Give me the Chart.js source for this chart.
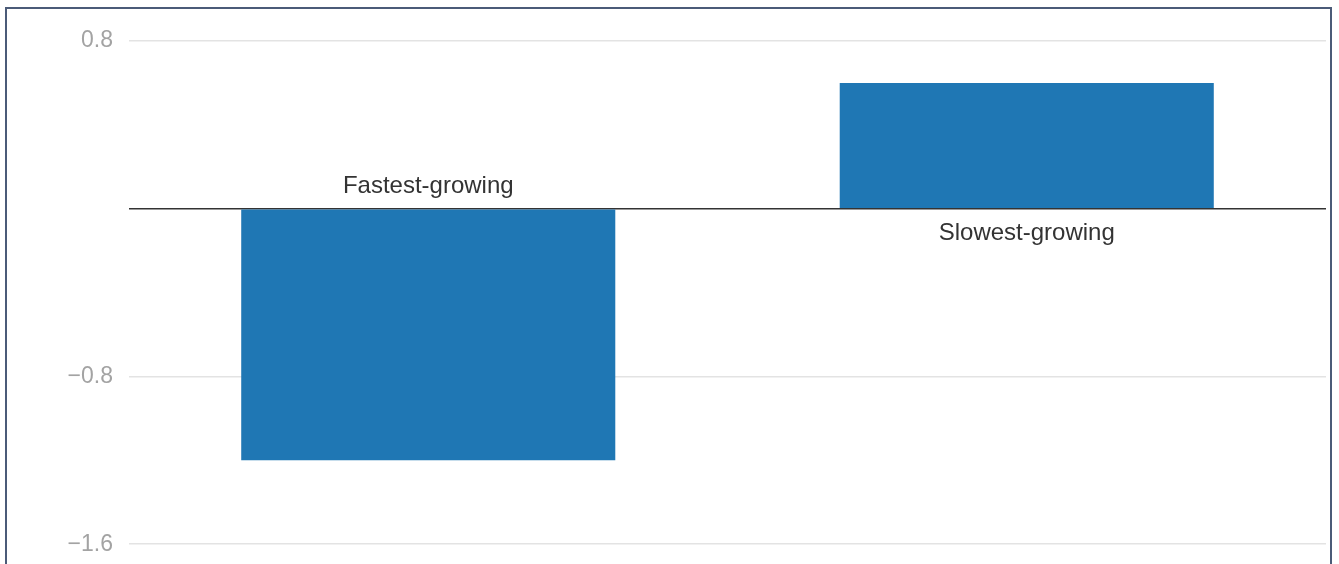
<!DOCTYPE html>
<html>
<head>
<meta charset="utf-8">
<script src="https://cdn.jsdelivr.net/npm/chart.js@4"></script>
<style>
  html, body { margin: 0; padding: 0; background: #fff; overflow: hidden; }
  #wrap { position: absolute; left: 0; top: 0; width: 1339px; height: 574px; }
  #frame { position: absolute; left: 5px; top: 7px; width: 1327px; height: 700px;
           box-sizing: border-box; border: 2px solid #4b5b78; pointer-events: none; }
</style>
</head>
<body>
<div id="wrap"><canvas id="myChart"></canvas></div>
<div id="frame"></div>
<script>
// Veriler
const kategoriler = ['Fastest-growing', 'Slowest-growing'];
const degerler = [-1.2, 0.6];
const yEksenDegerleri = [0.8, 0, -0.8, -1.6];

// Kategori etiketlerini sıfır çizgisinin yanına yaz
const kategoriEtiketi = {
  id: 'kategoriEtiketi',
  afterDatasetsDraw(chart) {
    const ctx = chart.ctx;
    const y = chart.scales.y;
    const sifir = y.getPixelForValue(0);
    const bars = chart.getDatasetMeta(0).data;
    ctx.save();
    ctx.font = '24px "Liberation Sans", Arial, sans-serif';
    ctx.fillStyle = '#333';
    ctx.textAlign = 'center';
    ctx.textBaseline = 'alphabetic';
    bars.forEach((bar, i) => {
      const yy = degerler[i] < 0 ? sifir - 16 : sifir + 31;
      ctx.fillText(kategoriler[i], bar.x, yy);
    });
    ctx.restore();
  }
};

function grafikOlustur() {
  const ctx = document.getElementById('myChart').getContext('2d');
  return new Chart(ctx, {
    type: 'bar',
    data: {
      labels: kategoriler,
      datasets: [{
        data: degerler,
        backgroundColor: '#1f77b4',
        borderWidth: 0,
        categoryPercentage: 1,
        barPercentage: 0.625
      }]
    },
    options: {
      responsive: true,
      maintainAspectRatio: false,
      animation: false,
      layout: { padding: { top: 41, bottom: 10, right: 13, left: 0 } },
      plugins: { legend: { display: false }, tooltip: { enabled: false } },
      scales: {
        x: { display: false },
        y: {
          min: -1.6,
          max: 0.8,
          afterFit(scale) { scale.width = 129; },
          afterBuildTicks(scale) { scale.ticks = yEksenDegerleri.map(v => ({ value: v })); },
          border: { display: false },
          grid: {
            drawTicks: false,
            color: c => (c.tick && c.tick.value === 0 ? '#333' : '#e3e3e3'),
            lineWidth: 1.5
          },
          ticks: {
            padding: 16,
            color: '#a3a3a3',
            font: { family: '"Liberation Sans", Arial, sans-serif', size: 23 },
            callback: v => (v === 0 ? '' : (v < 0 ? '\u2212' : '') + Math.abs(v).toFixed(1))
          }
        }
      }
    },
    plugins: [kategoriEtiketi]
  });
}

const myChart = grafikOlustur();
</script>
</body>
</html>
